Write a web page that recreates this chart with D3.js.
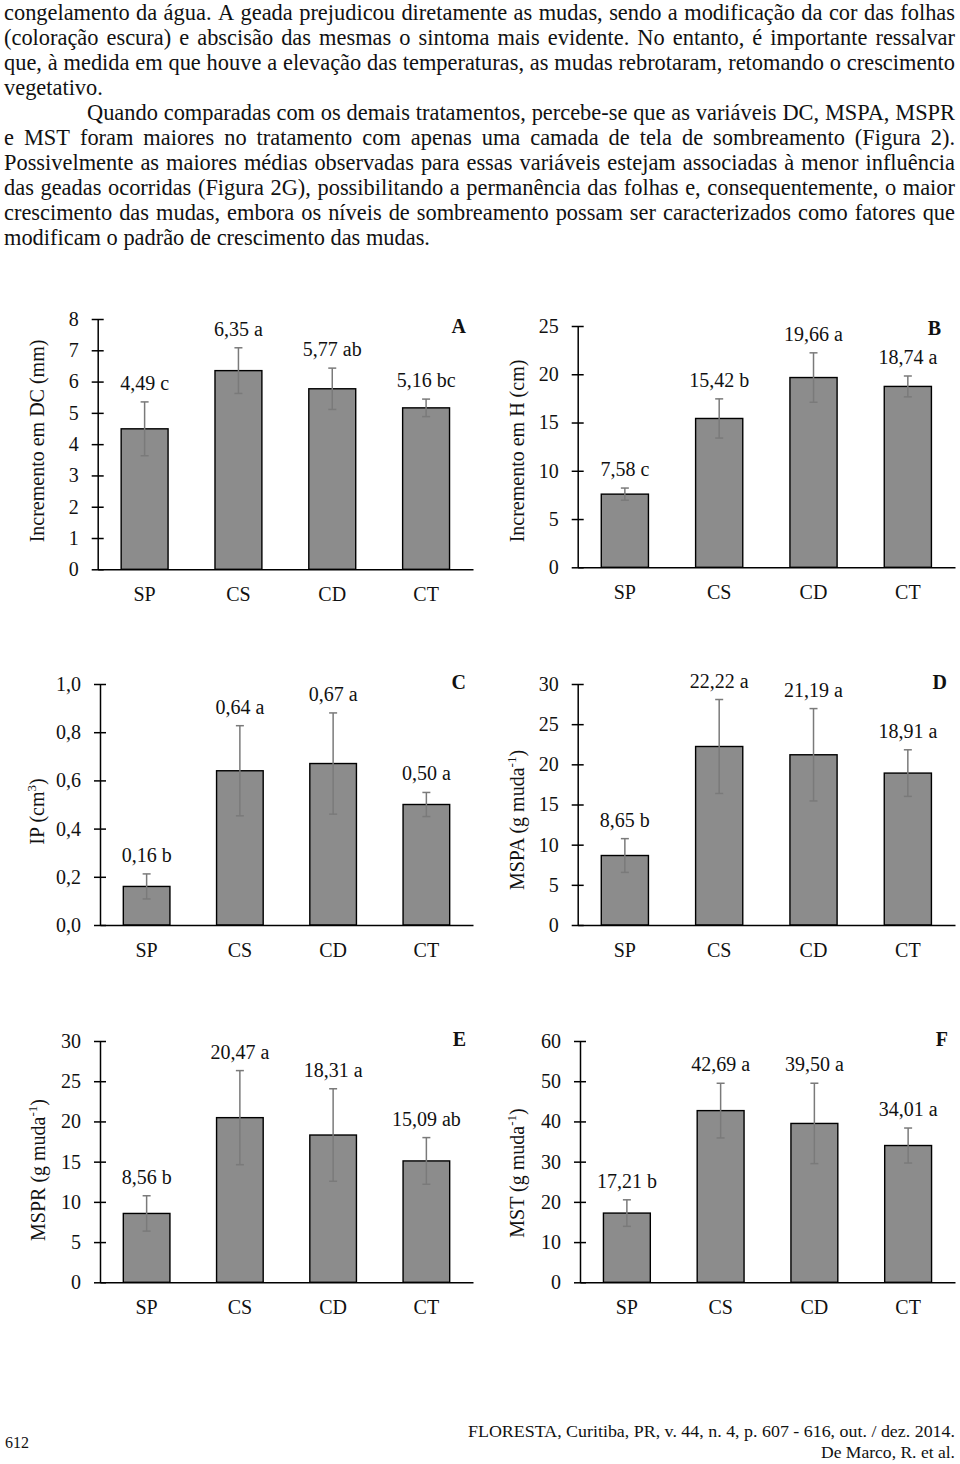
<!DOCTYPE html>
<html>
<head>
<meta charset="utf-8">
<script src="https://cdn.jsdelivr.net/npm/d3@7"></script>
<style>
  html, body { margin: 0; padding: 0; background: #fff; }
  svg { display: block; font-family: "Liberation Serif", "Times New Roman", serif; }
</style>
</head>
<body>
<script>
// ---------------- DATA ----------------
const categories = ["SP", "CS", "CD", "CT"];

const dcMeans   = [4.49, 6.35, 5.77, 5.16];
const dcErrors  = [0.86, 0.73, 0.66, 0.28];
const dcLetters = ["c", "a", "ab", "bc"];
const dcTicks   = [0, 1, 2, 3, 4, 5, 6, 7, 8];
const dcTickLabels = ["0", "1", "2", "3", "4", "5", "6", "7", "8"];

const hMeans   = [7.58, 15.42, 19.66, 18.74];
const hErrors  = [0.63, 2.03, 2.56, 1.08];
const hLetters = ["c", "b", "a", "a"];
const hTicks   = [0, 5, 10, 15, 20, 25];
const hTickLabels = ["0", "5", "10", "15", "20", "25"];

const ipMeans   = [0.16, 0.64, 0.67, 0.50];
const ipErrors  = [0.052, 0.187, 0.21, 0.05];
const ipLetters = ["b", "a", "a", "a"];
const ipTicks   = [0, 0.2, 0.4, 0.6, 0.8, 1.0];
const ipTickLabels = ["0,0", "0,2", "0,4", "0,6", "0,8", "1,0"];

const mspaMeans   = [8.65, 22.22, 21.19, 18.91];
const mspaErrors  = [2.1, 5.85, 5.75, 2.9];
const mspaLetters = ["b", "a", "a", "a"];
const mspaTicks   = [0, 5, 10, 15, 20, 25, 30];
const mspaTickLabels = ["0", "5", "10", "15", "20", "25", "30"];

const msprMeans   = [8.56, 20.47, 18.31, 15.09];
const msprErrors  = [2.2, 5.85, 5.75, 2.9];
const msprLetters = ["b", "a", "a", "ab"];
const msprTicks   = [0, 5, 10, 15, 20, 25, 30];
const msprTickLabels = ["0", "5", "10", "15", "20", "25", "30"];

const mstMeans   = [17.21, 42.69, 39.50, 34.01];
const mstErrors  = [3.3, 6.8, 10.0, 4.35];
const mstLetters = ["b", "a", "a", "a"];
const mstTicks   = [0, 10, 20, 30, 40, 50, 60];
const mstTickLabels = ["0", "10", "20", "30", "40", "50", "60"];

// ---------------- TEXT ----------------
const bodyLines = [
  ["congelamento da água. A geada prejudicou diretamente as mudas, sendo a modificação da cor das folhas", true, 0],
  ["(coloração escura) e abscisão das mesmas o sintoma mais evidente. No entanto, é importante ressalvar", true, 0],
  ["que, à medida em que houve a elevação das temperaturas, as mudas rebrotaram, retomando o crescimento", true, 0],
  ["vegetativo.", false, 0],
  ["Quando comparadas com os demais tratamentos, percebe-se que as variáveis DC, MSPA, MSPR", true, 83],
  ["e MST foram maiores no tratamento com apenas uma camada de tela de sombreamento (Figura 2).", true, 0],
  ["Possivelmente as maiores médias observadas para essas variáveis estejam associadas à menor influência", true, 0],
  ["das geadas ocorridas (Figura 2G), possibilitando a permanência das folhas e, consequentemente, o maior", true, 0],
  ["crescimento das mudas, embora os níveis de sombreamento possam ser caracterizados como fatores que", true, 0],
  ["modificam o padrão de crescimento das mudas.", false, 0]
];

// ---------------- LAYOUT ----------------
const panels = [
  { means: dcMeans, errors: dcErrors, letters: dcLetters, ticks: dcTicks, tickLabels: dcTickLabels, max: 8,
    left: 97.7, right: 473, top: 319, bottom: 569.3, tag: "A",
    title: [{t: "Incremento em DC (mm)"}], titleX: 43.5, titleY: 441, tagX: 466, tagY: 333 },
  { means: hMeans, errors: hErrors, letters: hLetters, ticks: hTicks, tickLabels: hTickLabels, max: 25,
    left: 577.7, right: 955, top: 326, bottom: 567.3, tag: "B",
    title: [{t: "Incremento em H (cm)"}], titleX: 523.5, titleY: 451, tagX: 941, tagY: 335 },
  { means: ipMeans, errors: ipErrors, letters: ipLetters, ticks: ipTicks, tickLabels: ipTickLabels, max: 1,
    left: 100, right: 473, top: 684, bottom: 925, tag: "C",
    title: [{t: "IP (cm"}, {t: "3", sup: true}, {t: ")"}], titleX: 43.5, titleY: 811.5, tagX: 466, tagY: 689 },
  { means: mspaMeans, errors: mspaErrors, letters: mspaLetters, ticks: mspaTicks, tickLabels: mspaTickLabels, max: 30,
    left: 577.7, right: 955, top: 684, bottom: 925, tag: "D",
    title: [{t: "MSPA (g muda"}, {t: "-1", sup: true}, {t: ")"}], titleX: 523.5, titleY: 820, tagX: 947, tagY: 689 },
  { means: msprMeans, errors: msprErrors, letters: msprLetters, ticks: msprTicks, tickLabels: msprTickLabels, max: 30,
    left: 100, right: 473, top: 1041, bottom: 1282.3, tag: "E",
    title: [{t: "MSPR (g muda"}, {t: "-1", sup: true}, {t: ")"}], titleX: 45, titleY: 1170, tagX: 466, tagY: 1046 },
  { means: mstMeans, errors: mstErrors, letters: mstLetters, ticks: mstTicks, tickLabels: mstTickLabels, max: 60,
    left: 580, right: 955, top: 1041, bottom: 1282.3, tag: "F",
    title: [{t: "MST (g muda"}, {t: "-1", sup: true}, {t: ")"}], titleX: 523.5, titleY: 1173, tagX: 948, tagY: 1046 }
];

const FONT = 20;
const BAR_FILL = "#8c8c8c";
const ERR_COLOR = "#7a7a7a";
const fmt = v => d3.format(".2f")(v).replace(".", ",");

const svg = d3.select("body").append("svg").attr("width", 960).attr("height", 1464);

// ---------------- BODY TEXT ----------------
const bodyFont = 22.4, bodyLeft = 4, bodyRight = 955, bodyTop = 19.5, bodyStep = 25.1;
bodyLines.forEach(([txt, justify, indent], li) => {
  const y = bodyTop + li * bodyStep;
  const t = svg.append("text").attr("y", y).attr("font-size", bodyFont).attr("fill", "#111");
  const words = txt.split(" ");
  const spans = words.map(w => t.append("tspan").attr("x", 0).attr("y", y).text(w));
  const widths = spans.map(s => s.node().getComputedTextLength());
  const total = d3.sum(widths);
  const x0 = bodyLeft + indent;
  let gap = bodyFont * 0.25;
  if (justify && words.length > 1) gap = Math.max(2, (bodyRight - x0 - total) / (words.length - 1));
  let cx = x0;
  spans.forEach((s, i) => { s.attr("x", cx); cx += widths[i] + gap; });
});

// ---------------- PANELS ----------------
panels.forEach(p => {
  const data = categories.map((c, i) => ({ c, v: p.means[i], e: p.errors[i], l: p.letters[i] }));
  const x = d3.scaleBand().domain(categories).range([p.left, p.right]).paddingInner(0.5).paddingOuter(0.25);
  const y = d3.scaleLinear().domain([0, p.max]).range([p.bottom, p.top]);
  const g = svg.append("g");

  // bars
  g.selectAll("rect.bar").data(data).join("rect")
    .attr("class", "bar")
    .attr("x", d => x(d.c))
    .attr("y", d => y(d.v))
    .attr("width", x.bandwidth())
    .attr("height", d => y(0) - y(d.v))
    .attr("fill", BAR_FILL)
    .attr("stroke", "#000")
    .attr("stroke-width", 1.4);

  // error bars
  const eg = g.selectAll("g.err").data(data).join("g").attr("class", "err")
    .attr("stroke", ERR_COLOR).attr("stroke-width", 1.5);
  const cx = d => x(d.c) + x.bandwidth() / 2;
  eg.append("line").attr("x1", cx).attr("x2", cx).attr("y1", d => y(d.v + d.e)).attr("y2", d => y(d.v - d.e));
  eg.append("line").attr("x1", d => cx(d) - 4).attr("x2", d => cx(d) + 4).attr("y1", d => y(d.v + d.e)).attr("y2", d => y(d.v + d.e));
  eg.append("line").attr("x1", d => cx(d) - 4).attr("x2", d => cx(d) + 4).attr("y1", d => y(d.v - d.e)).attr("y2", d => y(d.v - d.e));

  // value labels
  g.selectAll("text.val").data(data).join("text")
    .attr("class", "val")
    .attr("x", cx)
    .attr("y", d => y(d.v + d.e) - 12)
    .attr("text-anchor", "middle")
    .attr("font-size", FONT)
    .attr("fill", "#111")
    .text(d => fmt(d.v) + " " + d.l);

  // y axis
  const yAxis = d3.axisLeft(y).tickValues(p.ticks)
    .tickFormat((d, i) => p.tickLabels[i])
    .tickSizeInner(6).tickSizeOuter(0).tickPadding(13);
  const ya = g.append("g").attr("transform", `translate(${p.left},0)`).call(yAxis);
  ya.select(".domain").attr("stroke", "#000").attr("stroke-width", 1.5);
  ya.selectAll(".tick line").attr("x1", 6).attr("stroke", "#000").attr("stroke-width", 1.5);
  ya.selectAll(".tick text").attr("font-family", "Liberation Serif, Times New Roman, serif")
    .attr("font-size", FONT).attr("fill", "#111");

  // x axis
  const xAxis = d3.axisBottom(x).tickSize(0).tickPadding(18);
  const xa = g.append("g").attr("transform", `translate(0,${p.bottom})`).call(xAxis);
  xa.select(".domain").attr("stroke", "#000").attr("stroke-width", 1.5);
  xa.selectAll(".tick text").attr("font-family", "Liberation Serif, Times New Roman, serif")
    .attr("font-size", FONT).attr("fill", "#111");

  // y title
  const tt = g.append("text")
    .attr("transform", `translate(${p.titleX},${p.titleY}) rotate(-90)`)
    .attr("text-anchor", "middle")
    .attr("font-size", FONT)
    .attr("fill", "#111");
  p.title.forEach(part => {
    const s = tt.append("tspan").text(part.t);
    if (part.sup) s.attr("font-size", 13).attr("dy", -8);
    else if (tt.selectAll("tspan").size() > 1) s.attr("dy", 8);
  });

  // panel tag
  g.append("text").attr("x", p.tagX).attr("y", p.tagY)
    .attr("text-anchor", "end").attr("font-size", FONT).attr("font-weight", "bold")
    .attr("fill", "#111").text(p.tag);
});

// ---------------- FOOTER ----------------
svg.append("text").attr("x", 5).attr("y", 1448).attr("font-size", 16).attr("fill", "#111").text("612");
svg.append("text").attr("x", 468).attr("y", 1437).attr("font-size", 17)
  .attr("textLength", 487).attr("lengthAdjust", "spacingAndGlyphs").attr("fill", "#111")
  .text("FLORESTA, Curitiba, PR, v. 44, n. 4, p. 607 - 616, out. / dez. 2014.");
svg.append("text").attr("x", 821).attr("y", 1458).attr("font-size", 17)
  .attr("textLength", 134).attr("lengthAdjust", "spacingAndGlyphs").attr("fill", "#111")
  .text("De Marco, R. et al.");
</script>
</body>
</html>
